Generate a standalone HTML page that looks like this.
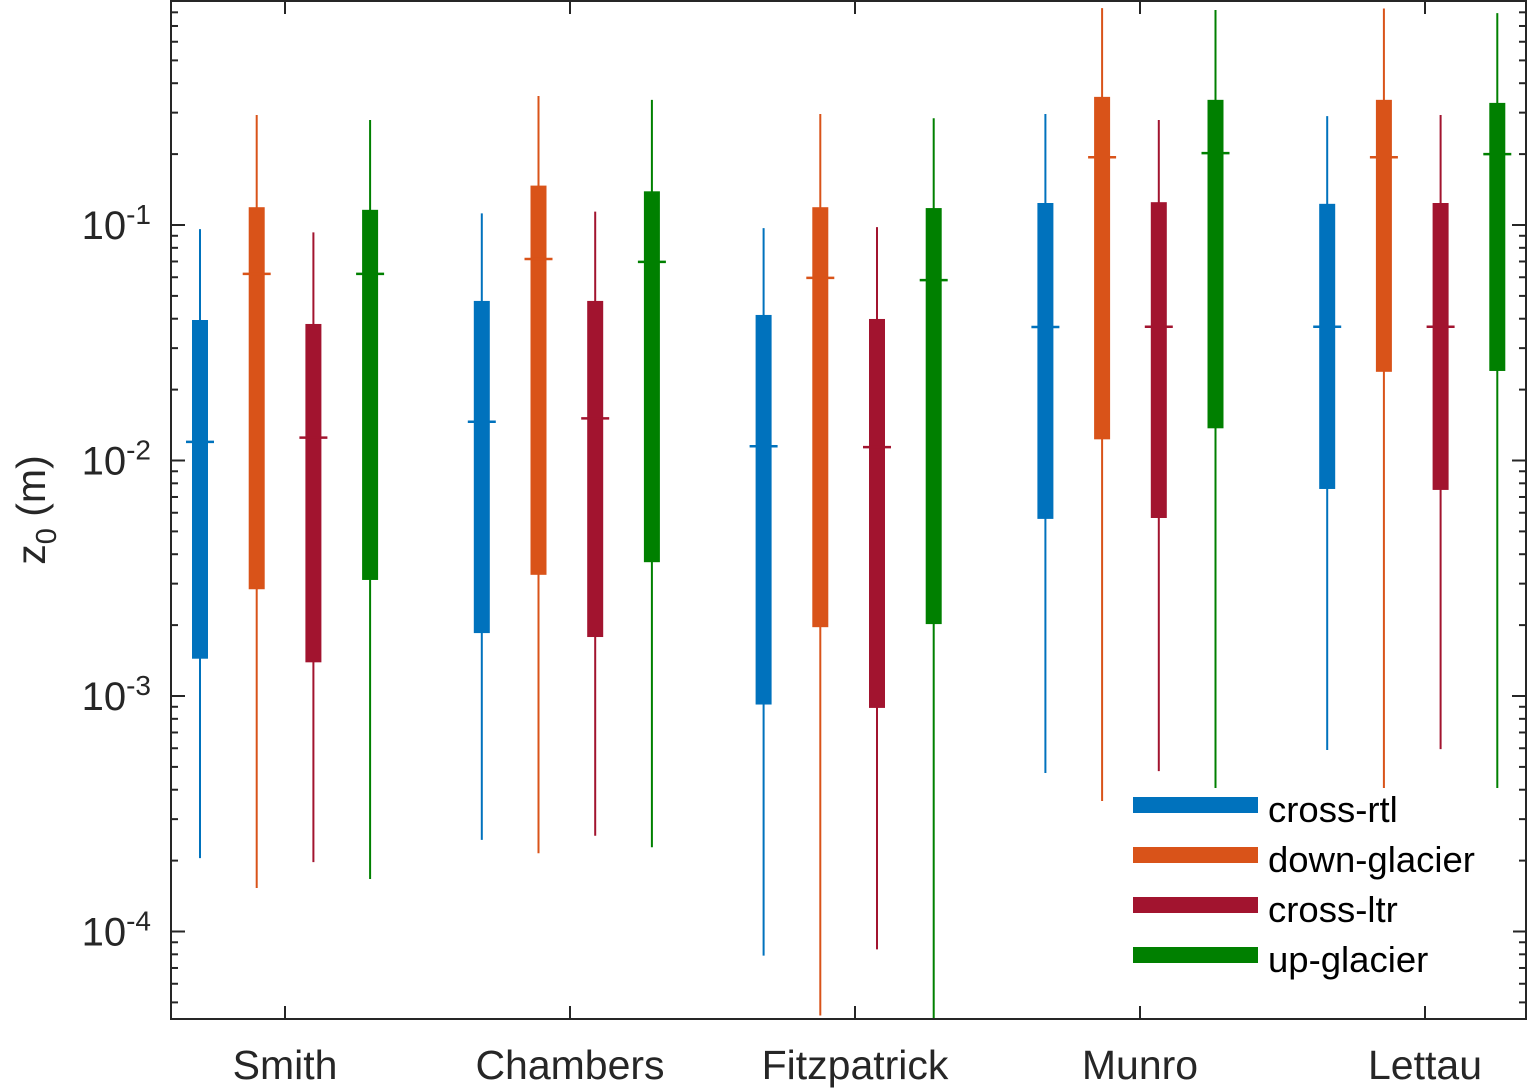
<!DOCTYPE html>
<html><head><meta charset="utf-8"><style>
html,body{margin:0;padding:0;background:#fff;}
svg{display:block;font-family:"Liberation Sans",Arial,sans-serif;}
</style></head><body>
<svg id="chart" width="1528" height="1088" viewBox="0 0 1528 1088"></svg>
<script>
const categories = ["Smith","Chambers","Fitzpatrick","Munro","Lettau"];
const seriesNames = ["cross-rtl","down-glacier","cross-ltr","up-glacier"];
const seriesColors = ["#0072BD","#D95319","#A2142F","#008000"];
// per series: [category] -> [whiskerLow, q1, median, q3, whiskerHigh]
const crossRtl = [
  [2.05e-4,0.00144,0.012,0.0395,0.096],
  [2.45e-4,0.00185,0.0146,0.0476,0.112],
  [7.9e-5,9.2e-4,0.0115,0.0415,0.097],
  [4.71e-4,0.00565,0.0369,0.124,0.296],
  [5.9e-4,0.00757,0.037,0.123,0.29]];
const downGlacier = [
  [1.53e-4,0.00284,0.062,0.119,0.293],
  [2.15e-4,0.00327,0.0717,0.147,0.353],
  [4.4e-5,0.00196,0.0596,0.119,0.296],
  [3.58e-4,0.0123,0.194,0.35,0.834],
  [3.99e-4,0.0238,0.194,0.34,0.83]];
const crossLtr = [
  [1.97e-4,0.00139,0.0125,0.038,0.093],
  [2.55e-4,0.00178,0.0151,0.0476,0.114],
  [8.4e-5,8.9e-4,0.0114,0.0399,0.098],
  [4.8e-4,0.0057,0.037,0.125,0.279],
  [5.95e-4,0.0075,0.037,0.124,0.293]];
const upGlacier = [
  [1.67e-4,0.00311,0.062,0.116,0.279],
  [2.28e-4,0.0037,0.0697,0.139,0.34],
  [3e-5,0.00202,0.0583,0.118,0.284],
  [3.7e-4,0.0137,0.202,0.34,0.818],
  [4.0e-4,0.024,0.2,0.33,0.794]];
const yTickExps = [-4,-3,-2,-1];

const allSeries = [crossRtl, downGlacier, crossLtr, upGlacier];
const NS="http://www.w3.org/2000/svg";
const svg=document.getElementById('chart');
const L=171,R=1526,T=1,B=1019;
const decade=235.5, yRef=225; // y of 10^-1
function yScale(v){ let y = yRef - (Math.log10(v)+1)*decade; return Math.max(T,Math.min(B,y)); }
const catSpacing=285, cat0=285;
function xScale(i){ return cat0 + i*catSpacing; }
function boxX(ci,si){ return 200 + ci*281.8 + si*56.7; }
function mk(tag,attrs,parent){const e=document.createElementNS(NS,tag);for(const k in attrs)e.setAttribute(k,attrs[k]);(parent||svg).appendChild(e);return e;}

const plot=mk('g',{});



allSeries.forEach((ser,si)=>{
  const g=mk('g',{},plot);
  
  
  ser.forEach((d,ci)=>{
    const x=boxX(ci,si);
    const c=seriesColors[si];
    const w=mk('line',{x1:x,x2:x,y1:yScale(d[0]),y2:yScale(d[4]),stroke:c,'stroke-width':2},g);
    
    
    const b=mk('rect',{x:x-8,y:yScale(d[3]),width:16,height:yScale(d[1])-yScale(d[3]),fill:c},g);
    
    
    const m=mk('line',{x1:x-14,x2:x+14,y1:yScale(d[2]),y2:yScale(d[2]),stroke:c,'stroke-width':2.5},g);
    
    
  });
});

// axes
const ax=mk('g',{stroke:'#262626','stroke-width':2,fill:'none'});


mk('rect',{x:L,y:T,width:R-L,height:B-T},ax);
for(let e=-5;e<=0;e++){
  for(let m=1;m<=9;m++){
    const v=m*Math.pow(10,e);
    const y=yRef-(Math.log10(v)+1)*decade;
    if(y<T||y>B)continue;
    const len=m===1?14:7;
    mk('line',{x1:L,x2:L+len,y1:y,y2:y},ax);
    mk('line',{x1:R,x2:R-len,y1:y,y2:y},ax);
  }
}
categories.forEach((c,i)=>{
  const x=xScale(i);
  mk('line',{x1:x,x2:x,y1:B,y2:B-13},ax);
  mk('line',{x1:x,x2:x,y1:T,y2:T+13},ax);
  const t=mk('text',{x:x,y:1079,'text-anchor':'middle','font-size':41,fill:'#262626',stroke:'none'});
  t.textContent=c;
  
  
});
yTickExps.forEach(e=>{
  const y=yRef-(e+1)*decade;
  const t=mk('text',{x:151,y:y+14,'text-anchor':'end','font-size':40,fill:'#262626'});
  t.innerHTML='10<tspan dy="-15" font-size="28">'+e+'</tspan>';
  
  
});
const yl=mk('text',{transform:'translate(45,510) rotate(-90)','text-anchor':'middle','font-size':41,fill:'#262626'});
yl.innerHTML='z<tspan dy="11" font-size="29">0</tspan><tspan dy="-11"> (m)</tspan>';



// legend
const lg=mk('g',{});


mk('rect',{x:1118,y:788,width:395,height:200,fill:'#fff'},lg);
seriesNames.forEach((n,i)=>{
  const y=805+i*50;
  const e=mk('g',{},lg);
  
  
  mk('rect',{x:1133,y:y-8,width:125,height:16,fill:seriesColors[i]},e);
  const t=mk('text',{x:1268,y:y+17,'font-size':36.5,fill:'#000'},e);
  t.textContent=n;
});
</script>
</body></html>
